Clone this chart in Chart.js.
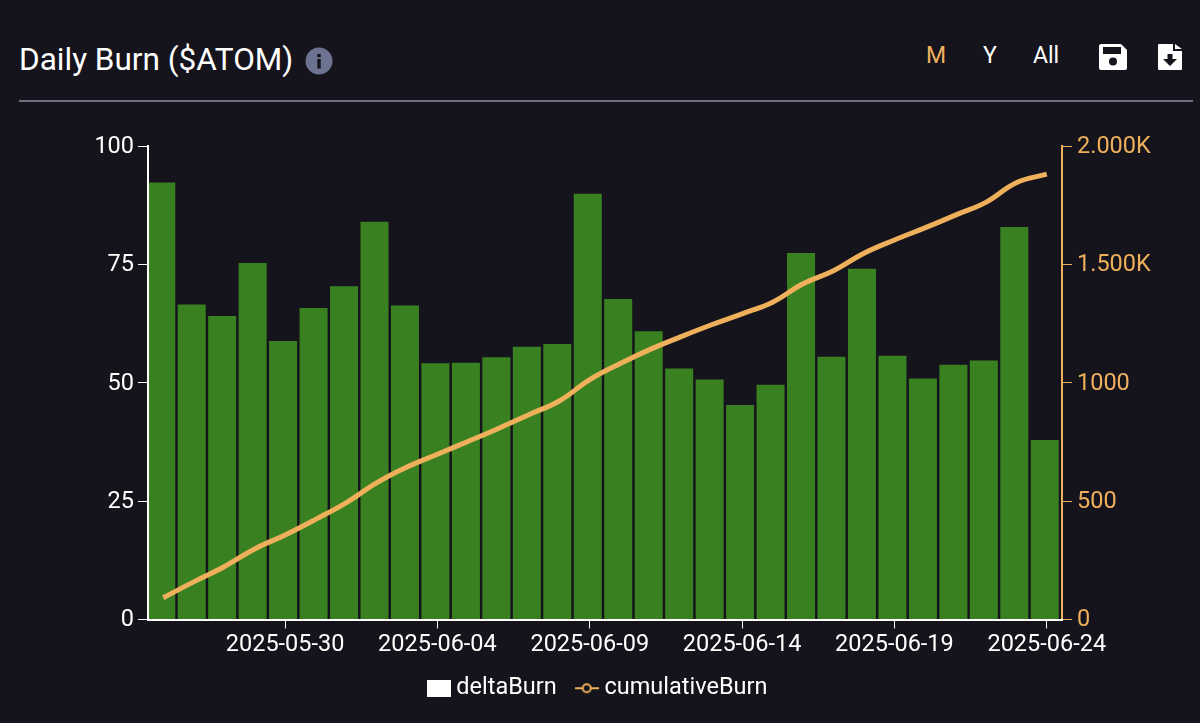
<!DOCTYPE html>
<html>
<head>
<meta charset="utf-8">
<script src="https://cdn.jsdelivr.net/npm/chart.js@4"></script>
<style>
    html, body { margin: 0; padding: 0; background: #15131b; overflow: hidden; }
    body { width: 1200px; height: 723px; position: relative; font-family: Roboto, sans-serif; color: #fff; }
    #burnChart { position: absolute; left: 0; top: 0; }
    .title { position: absolute; left: 19px; top: 41px; font-size: 31.5px; line-height: 38px; }
    .range { position: absolute; top: 42px; font-size: 23px; line-height: 28px; transform: translateX(-50%); }
    .rule { position: absolute; left: 19px; top: 100px; width: 1174px; height: 2px; background: #6e6e82; }
    svg.icon { position: absolute; }
</style>
</head>
<body>
<div class="title">Daily Burn ($ATOM)</div>
<svg class="icon" style="left:305px;top:47px" width="28" height="28" viewBox="0 0 28 28">
    <circle cx="14" cy="14" r="13.5" fill="#6c7390"/>
    <rect x="12.3" y="12" width="3.4" height="9.5" fill="#15131b"/>
    <rect x="12.3" y="7" width="3.4" height="3.2" fill="#15131b"/>
</svg>
<div class="range" style="left:936px;color:#efb05c">M</div>
<div class="range" style="left:990px">Y</div>
<div class="range" style="left:1046px">All</div>
<svg class="icon" style="left:1098px;top:43px" width="30" height="28" viewBox="0 0 30 28">
    <path d="M3 1H23L29 7V25a2 2 0 0 1-2 2H3a2 2 0 0 1-2-2V3a2 2 0 0 1 2-2z" fill="#fff"/>
    <rect x="5" y="4" width="18" height="7" fill="#15131b"/>
    <circle cx="15" cy="18.5" r="4" fill="#15131b"/>
</svg>
<svg class="icon" style="left:1157px;top:43px" width="26" height="28" viewBox="0 0 26 28">
    <path d="M2 1H16V8H25V26a1 1 0 0 1-1 1H2a1 1 0 0 1-1-1V2a1 1 0 0 1 1-1z" fill="#fff"/>
    <path d="M18 1L25 6H18z" fill="#fff"/>
    <path d="M10.5 11H15.5V16H20L13 23L6 16H10.5z" fill="#15131b"/>
</svg>
<div class="rule"></div>
<canvas id="burnChart" width="1200" height="723"></canvas>
<script>
    const dates = [
        "2025-05-26", "2025-05-27", "2025-05-28", "2025-05-29", "2025-05-30", "2025-05-31",
        "2025-06-01", "2025-06-02", "2025-06-03", "2025-06-04", "2025-06-05", "2025-06-06",
        "2025-06-07", "2025-06-08", "2025-06-09", "2025-06-10", "2025-06-11", "2025-06-12",
        "2025-06-13", "2025-06-14", "2025-06-15", "2025-06-16", "2025-06-17", "2025-06-18",
        "2025-06-19", "2025-06-20", "2025-06-21", "2025-06-22", "2025-06-23", "2025-06-24"
    ];
    const shownDates = ["2025-05-30", "2025-06-04", "2025-06-09", "2025-06-14", "2025-06-19", "2025-06-24"];
    const deltaBurn = [
        92.3, 66.5, 64.1, 75.3, 58.8, 65.8, 70.4, 84.0, 66.3, 54.1,
        54.2, 55.4, 57.6, 58.2, 89.9, 67.7, 60.9, 53.0, 50.7, 45.3,
        49.6, 77.4, 55.5, 74.1, 55.7, 50.9, 53.8, 54.7, 82.9, 37.9
    ];
    const cumulativeBurn = [
        92, 159, 223, 298, 357, 423, 493, 577, 644, 698,
        752, 807, 865, 923, 1013, 1081, 1142, 1195, 1245, 1291,
        1340, 1418, 1473, 1547, 1603, 1654, 1708, 1762, 1845, 1881
    ];
    const leftTicks = [0, 25, 50, 75, 100];
    const rightTicks = [0, 500, 1000, 1500, 2000];
    const rightTickLabels = ["0", "500", "1000", "1.500K", "2.000K"];

    const WHITE = "#ffffff";
    const ORANGE = "#efb05c";
    const GREEN = "#398020";
    const TICK_FONT = { family: "Roboto", size: 23.5 };

    const boxIcon = () => {
        const c = document.createElement("canvas");
        c.width = 24;
        c.height = 17;
        const ctx = c.getContext("2d");
        ctx.fillStyle = WHITE;
        ctx.fillRect(0, 0, 24, 17);
        return c;
    };

    const lineIcon = () => {
        const c = document.createElement("canvas");
        c.width = 24;
        c.height = 12;
        const ctx = c.getContext("2d");
        ctx.strokeStyle = ORANGE;
        ctx.lineWidth = 2;
        ctx.beginPath();
        ctx.moveTo(0, 6);
        ctx.lineTo(24, 6);
        ctx.stroke();
        ctx.beginPath();
        ctx.arc(12, 6, 4, 0, Math.PI * 2);
        ctx.fillStyle = "#15131b";
        ctx.fill();
        ctx.stroke();
        return c;
    };

    // the bars sit 2px left of the ticks in the original
    const nudgeBars = {
        id: "nudgeBars",
        afterDatasetsUpdate: (chart) => {
            chart.getDatasetMeta(1).data.forEach((bar) => { bar.x -= 2; });
        }
    };

    new Chart(document.getElementById("burnChart").getContext("2d"), {
        plugins: [nudgeBars],
        data: {
            labels: dates,
            datasets: [
                {
                    type: "line",
                    label: "cumulativeBurn",
                    data: cumulativeBurn,
                    yAxisID: "yRight",
                    borderColor: ORANGE,
                    borderWidth: 5,
                    pointRadius: 0,
                    tension: 0.4,
                    order: 1
                },
                {
                    type: "bar",
                    label: "deltaBurn",
                    data: deltaBurn,
                    yAxisID: "yLeft",
                    backgroundColor: GREEN,
                    barPercentage: 0.92,
                    categoryPercentage: 1,
                    order: 2
                }
            ]
        },
        options: {
            responsive: false,
            animation: false,
            layout: { padding: { top: 146, bottom: 13 } },
            scales: {
                x: {
                    grid: { drawOnChartArea: false, color: WHITE, tickLength: 9, offset: false },
                    border: { color: WHITE, width: 2, z: 1 },
                    ticks: {
                        color: WHITE,
                        font: TICK_FONT,
                        autoSkip: false,
                        maxRotation: 0,
                        padding: 3,
                        callback: function (value) {
                            const label = this.getLabelForValue(value);
                            return shownDates.includes(label) ? label : null;
                        }
                    },
                    afterFit: (scale) => { scale.height = 33; }
                },
                yLeft: {
                    position: "left",
                    min: 0,
                    max: 100,
                    grid: { drawOnChartArea: false, color: WHITE, tickLength: 10 },
                    border: { color: WHITE, width: 2, z: 1 },
                    ticks: {
                        color: WHITE,
                        font: TICK_FONT,
                        padding: 4,
                        labelOffset: 1,
                        stepSize: 25,
                        callback: (value) => leftTicks.includes(value) ? String(value) : null
                    },
                    afterFit: (scale) => { scale.width = 148; }
                },
                yRight: {
                    position: "right",
                    min: 0,
                    max: 2000,
                    grid: { drawOnChartArea: false, color: ORANGE, tickLength: 10 },
                    border: { color: ORANGE, width: 2 },
                    ticks: {
                        color: ORANGE,
                        font: TICK_FONT,
                        padding: 5,
                        labelOffset: 1,
                        stepSize: 500,
                        callback: (value) => rightTickLabels[rightTicks.indexOf(value)]
                    },
                    afterFit: (scale) => { scale.width = 138; }
                }
            },
            plugins: {
                tooltip: { enabled: false },
                legend: {
                    position: "bottom",
                    labels: {
                        color: WHITE,
                        font: { family: "Roboto", size: 23.5 },
                        usePointStyle: true,
                        pointStyleWidth: 12,
                        padding: 24,
                        generateLabels: () => [
                            { text: "deltaBurn", pointStyle: boxIcon(), fontColor: WHITE, lineWidth: 0 },
                            { text: "cumulativeBurn", pointStyle: lineIcon(), fontColor: WHITE, lineWidth: 0 }
                        ]
                    }
                }
            }
        }
    });
</script>
</body>
</html>
